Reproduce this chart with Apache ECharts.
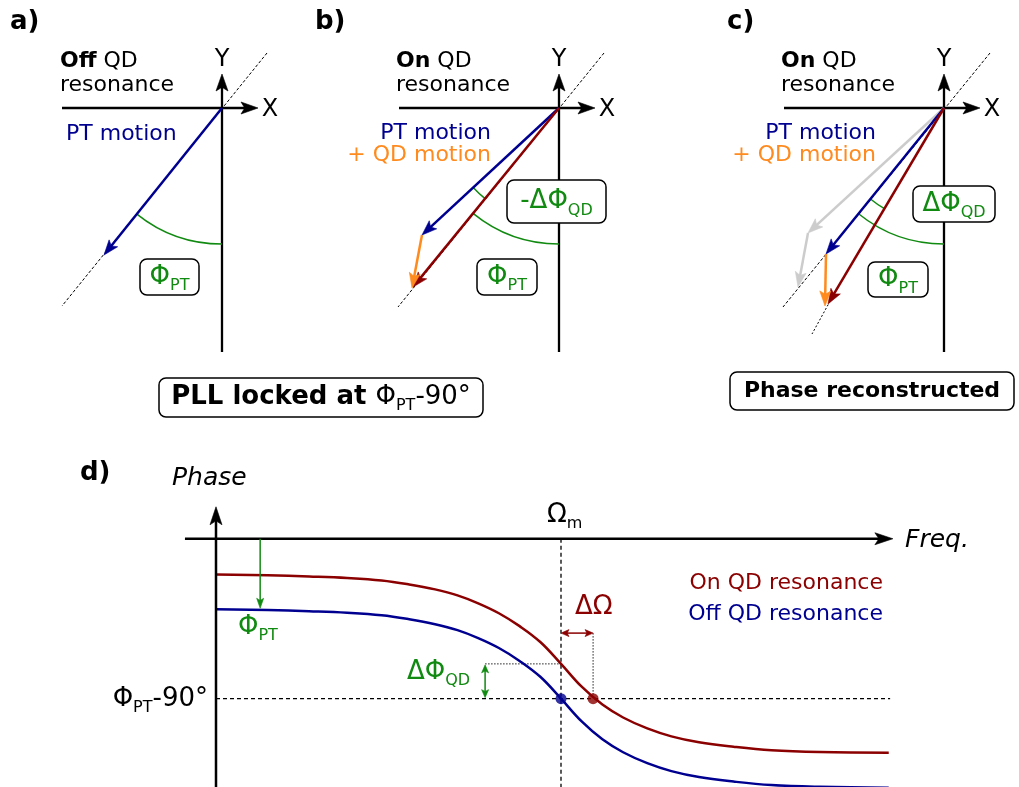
<!DOCTYPE html>
<html><head><meta charset="utf-8">
<script src="https://cdn.jsdelivr.net/npm/echarts@6/dist/echarts.min.js"></script>
<style>html,body{margin:0;padding:0;background:#fff}#c{width:1019px;height:787px}</style>
</head><body><div id="c"></div>
<script>
// ================= DATA =================
// Phasor panels a-c (arbitrary amplitude units, origin at X/Y crossing)
const axisXSeg = [-1.60, 0, 0.36, 0];
const axisYSeg = [0, -2.44, 0, 0.34];
// panel a
const guideA = [[0.45, 0.55], [-1.60, -1.98]];
const ptA = [0, 0, -1.18, -1.47];
const arcsA = [[0, -1, -1.18, -1.47, 1.36]];
// panel b
const guideB = [[0.45, 0.55], [-1.61, -1.99]];
const ptB = [0, 0, -1.37, -1.27];
const qdB = [-1.37, -1.27, -1.47, -1.80];
const sumB = [0, 0, -1.46, -1.79];
const arcsB = [[0, -1, -1.46, -1.79, 1.36], [-1.46, -1.79, -1.37, -1.27, 1.17]];
// panel c
const guideC = [[0.46, 0.55], [-1.61, -1.99]];
const guideC2 = [[-1.10, -1.86], [-1.32, -2.26]];
const ghostC = [[0, 0, -1.36, -1.25], [-1.36, -1.25, -1.46, -1.79]];
const ptC = [0, 0, -1.18, -1.46];
const qdC = [-1.18, -1.46, -1.19, -1.98];
const sumC = [0, 0, -1.16, -1.96];
const arcsC = [[0, -1, -1.18, -1.46, 1.36], [-1.18, -1.46, -1.16, -1.96, 1.17]];
// Panel d: frequency (units of Omega_m) and phase (deg)
const freqD = [0, 0.15, 0.27, 0.38, 0.48, 0.56, 0.635, 0.70, 0.76, 0.82, 0.88, 0.94, 1.00,
               1.06, 1.12, 1.18, 1.25, 1.32, 1.40, 1.50, 1.61, 1.75, 1.95];
const phaseOn = [-36, -36.8, -38, -39.5, -42, -46, -51, -57, -65, -75, -88, -104, -126,
                 -149, -167, -180, -191, -199, -205, -209.5, -213, -214.8, -215.5];
const phaseOff = [-71, -71.8, -73, -74.5, -77, -81, -86, -92, -100, -110, -123, -139, -161,
                  -184, -202, -215, -226, -234, -240, -244.5, -248, -249.8, -250.8];
const dAxisX = [-0.09, 0, 1.962, 0];
const dAxisY = [0, -252, 0, 32.2];
const omegaM = 1.0;
const phiLock = -161;           // Phi_PT - 90 deg
const phiOnAtOmegaM = -126;
const freqOnLock = 1.093;
const freqEnd = 1.954;
const phiPTArrow = [0.128, 0, 0.128, -70];
const dPhiArrow = [0.78, -160, 0.78, -127];
const dOmegaArrow = [1.0, -95, 1.093, -95];

// ================= STYLE =================
const F = 'DejaVu Sans';
const NAVY = '#000090', DRED = '#8b0000', GREEN = '#118a11', ORANGE = '#ff8a1e', GRAY = '#cccccc';

function arrowSeries(grid, segs, color, width, L, W, heads, z) {
  return {
    type: 'custom', coordinateSystem: 'cartesian2d', xAxisIndex: grid, yAxisIndex: grid,
    silent: true, z: z || 3, data: segs,
    renderItem: function (params, api) {
      const p1 = api.coord([api.value(0), api.value(1)]);
      const p2 = api.coord([api.value(2), api.value(3)]);
      const dx = p2[0] - p1[0], dy = p2[1] - p1[1];
      const len = Math.hypot(dx, dy) || 1;
      const ux = dx / len, uy = dy / len, nx = -uy, ny = ux;
      const kids = [];
      function head(tip, ddx, ddy) {
        const bx = tip[0] - ddx * L, by = tip[1] - ddy * L;
        return { type: 'polygon', shape: { points: [[tip[0], tip[1]], [bx + nx * W / 2, by + ny * W / 2],
          [tip[0] - ddx * L * 0.78, tip[1] - ddy * L * 0.78], [bx - nx * W / 2, by - ny * W / 2]] },
          style: { fill: color, stroke: color, lineWidth: 0.6 } };
      }
      let s = p1.slice(), e = p2.slice();
      if (heads === 'end' || heads === 'both') { e = [p2[0] - ux * L * 0.7, p2[1] - uy * L * 0.7]; kids.push(head(p2, ux, uy)); }
      if (heads === 'both') { s = [p1[0] + ux * L * 0.7, p1[1] + uy * L * 0.7]; kids.push(head(p1, -ux, -uy)); }
      kids.unshift({ type: 'line', shape: { x1: s[0], y1: s[1], x2: e[0], y2: e[1] }, style: { stroke: color, lineWidth: width } });
      return { type: 'group', children: kids };
    }
  };
}
function arcSeries(grid, arcs, color, width) {
  return {
    type: 'custom', coordinateSystem: 'cartesian2d', xAxisIndex: grid, yAxisIndex: grid,
    silent: true, z: 2, data: arcs,
    renderItem: function (params, api) {
      const o = api.coord([0, 0]);
      const a = api.coord([api.value(0), api.value(1)]);
      const b = api.coord([api.value(2), api.value(3)]);
      const r = api.size([api.value(4), 0])[0];
      const t1 = Math.atan2(a[1] - o[1], a[0] - o[0]), t2 = Math.atan2(b[1] - o[1], b[0] - o[0]);
      return { type: 'arc', shape: { cx: o[0], cy: o[1], r: r, startAngle: Math.min(t1, t2), endAngle: Math.max(t1, t2), clockwise: true },
        style: { stroke: color, lineWidth: width, fill: 'none' } };
    }
  };
}
function lineSeries(grid, pts, color, width, type, z) {
  return { type: 'line', xAxisIndex: grid, yAxisIndex: grid, data: pts, symbol: 'none', silent: true, z: z || 1,
    lineStyle: { color: color, width: width, type: type || 'solid' }, emphasis: { disabled: true } };
}
function zip(xs, ys) { return xs.map((x, i) => [x, ys[i]]); }

// ================= LAYOUT =================
const origins = [[222, 108], [559, 108], [944, 108]];
const grids = origins.map(o => ({ left: o[0] - 182, top: o[1] - 78, width: 250, height: 340 }));
grids.push({ left: 181.5, top: 505, width: 724.5, height: 284 });
const xAxes = [0, 1, 2].map(i => ({ type: 'value', gridIndex: i, min: -1.82, max: 0.68, show: false }));
xAxes.push({ type: 'value', gridIndex: 3, min: -0.1, max: 2.0, show: false });
const yAxes = [0, 1, 2].map(i => ({ type: 'value', gridIndex: i, min: -2.62, max: 0.78, show: false }));
yAxes.push({ type: 'value', gridIndex: 3, min: -252, max: 34, show: false });
grids.forEach(g => { g.outerBoundsMode = 'none'; g.containLabel = false; });

const series = [];
// axes for a,b,c
[0, 1, 2].forEach(i => series.push(arrowSeries(i, [axisXSeg, axisYSeg], '#000', 2.3, 17, 12, 'end', 2)));
// panel a
series.push(lineSeries(0, guideA, '#000', 1, [3, 2]));
series.push(arcSeries(0, arcsA, GREEN, 1.5));
series.push(arrowSeries(0, [ptA], NAVY, 2.5, 15, 11, 'end'));
// panel b
series.push(lineSeries(1, guideB, '#000', 1, [3, 2]));
series.push(arcSeries(1, arcsB, GREEN, 1.5));
series.push(arrowSeries(1, [ptB], NAVY, 2.5, 15, 11, 'end'));
series.push(arrowSeries(1, [sumB], DRED, 2.5, 15, 11, 'end'));
series.push(arrowSeries(1, [qdB], ORANGE, 2.5, 15, 11, 'end', 4));
// panel c
series.push(lineSeries(2, guideC, '#000', 1, [3, 2]));
series.push(lineSeries(2, guideC2, '#000', 1, [2, 2]));
series.push(arrowSeries(2, ghostC, GRAY, 2.5, 15, 11, 'end', 2));
series.push(arcSeries(2, arcsC, GREEN, 1.5));
series.push(arrowSeries(2, [ptC], NAVY, 2.5, 15, 11, 'end'));
series.push(arrowSeries(2, [sumC], DRED, 2.5, 15, 11, 'end'));
series.push(arrowSeries(2, [qdC], ORANGE, 2.5, 15, 11, 'end', 4));
// panel d
series.push(lineSeries(3, [[0, phiLock], [freqEnd, phiLock]], '#000', 1.3, [4, 3]));
series.push(lineSeries(3, [[omegaM, 0], [omegaM, -252]], '#000', 1.3, [4, 3]));
series.push(lineSeries(3, [[dPhiArrow[0], phiOnAtOmegaM], [omegaM, phiOnAtOmegaM]], '#222', 1, [1.5, 1.5]));
series.push(lineSeries(3, [[freqOnLock, dOmegaArrow[1]], [freqOnLock, phiLock]], '#222', 1, [1.5, 1.5]));
series.push(Object.assign(lineSeries(3, zip(freqD, phaseOn), DRED, 2.5, 'solid', 2), { smooth: 0.4 }));
series.push(Object.assign(lineSeries(3, zip(freqD, phaseOff), NAVY, 2.5, 'solid', 2), { smooth: 0.4 }));
series.push(arrowSeries(3, [dAxisX, dAxisY], '#000', 2.5, 18, 12, 'end', 3));
series.push(arrowSeries(3, [phiPTArrow], GREEN, 1.5, 10, 7, 'end', 3));
series.push(arrowSeries(3, [dPhiArrow], GREEN, 1.5, 8, 7, 'both', 3));
series.push(arrowSeries(3, [dOmegaArrow], DRED, 1.5, 8, 7, 'both', 3));
series.push({ type: 'scatter', xAxisIndex: 3, yAxisIndex: 3, silent: true, z: 5, symbolSize: 11,
  data: [[omegaM, phiLock]], itemStyle: { color: NAVY } });
series.push({ type: 'scatter', xAxisIndex: 3, yAxisIndex: 3, silent: true, z: 5, symbolSize: 11,
  data: [[freqOnLock, phiLock]], itemStyle: { color: DRED } });

// ================= TEXT =================
function subRich(M, S, drop, extra) {
  const delta = 0.346 * M + drop - 0.346 * S;
  const b = Math.round(S * 1.25);
  const a = b + 2 * delta;
  return Object.assign({ m: { fontSize: M, lineHeight: a, fontFamily: F },
    s: { fontSize: S, lineHeight: b, verticalAlign: 'bottom', fontFamily: F } }, extra || {});
}
function txt(x, y, text, o) {
  o = o || {};
  return { type: 'text', x: x, y: y, z: 20, silent: true,
    style: { text: text, fontFamily: F, fontSize: o.size || 22, fontWeight: o.weight || 'normal', fontStyle: o.style || 'normal',
      fill: o.color || '#000', align: o.align || 'left', verticalAlign: 'middle', rich: o.rich } };
}
function box(x, y, w, h) {
  return { type: 'rect', z: 15, silent: true, shape: { x: x, y: y, width: w, height: h, r: 7 },
    style: { fill: '#fff', stroke: '#000', lineWidth: 1.5 } };
}
const onOffRich = { b: { fontWeight: 'bold', fontSize: 22, fontFamily: F }, n: { fontSize: 22, fontFamily: F } };
const phiRich = subRich(26, 16, 3.5);
const graphics = [
  txt(10, 22, 'a)', { size: 26, weight: 'bold' }),
  txt(315, 22, 'b)', { size: 26, weight: 'bold' }),
  txt(727, 22, 'c)', { size: 26, weight: 'bold' }),
  txt(80, 473, 'd)', { size: 26, weight: 'bold' }),
  // panel a
  txt(60, 61, '{b|Off}{n| QD}', { rich: onOffRich }),
  txt(60, 85, 'resonance'),
  txt(66, 134, 'PT motion', { color: NAVY }),
  txt(222, 60, 'Y', { align: 'center', size: 24 }), txt(270, 110, 'X', { align: 'center', size: 24 }),
  box(140, 259, 59, 36), txt(169.5, 277, '{m|Φ}{s|PT}', { color: GREEN, align: 'center', rich: phiRich }),
  // panel b
  txt(396, 61, '{b|On}{n| QD}', { rich: onOffRich }),
  txt(396, 85, 'resonance'),
  txt(491, 133, 'PT motion', { color: NAVY, align: 'right' }),
  txt(491, 155, '+ QD motion', { color: ORANGE, align: 'right' }),
  txt(559, 60, 'Y', { align: 'center', size: 24 }), txt(607, 110, 'X', { align: 'center', size: 24 }),
  box(507, 180, 99, 43), txt(556.5, 201.5, '{m|-ΔΦ}{s|QD}', { color: GREEN, align: 'center', rich: phiRich }),
  box(477, 259, 60, 36), txt(507, 277, '{m|Φ}{s|PT}', { color: GREEN, align: 'center', rich: phiRich }),
  box(159, 378, 324, 39),
  txt(321, 397.5, '{b|PLL locked at }{m|Φ}{s|PT}{m|-90°}', { align: 'center',
    rich: subRich(26, 16, 3, { b: { fontSize: 26, fontWeight: 'bold', fontFamily: F } }) }),
  // panel c
  txt(781, 61, '{b|On}{n| QD}', { rich: onOffRich }),
  txt(781, 85, 'resonance'),
  txt(876, 133, 'PT motion', { color: NAVY, align: 'right' }),
  txt(876, 155, '+ QD motion', { color: ORANGE, align: 'right' }),
  txt(944, 60, 'Y', { align: 'center', size: 24 }), txt(992, 110, 'X', { align: 'center', size: 24 }),
  box(913, 186, 82, 36), txt(954, 204, '{m|ΔΦ}{s|QD}', { color: GREEN, align: 'center', rich: phiRich }),
  box(868, 262, 60, 35), txt(898, 279.5, '{m|Φ}{s|PT}', { color: GREEN, align: 'center', rich: phiRich }),
  box(730, 372, 284, 38),
  txt(872, 391, 'Phase reconstructed', { weight: 'bold', align: 'center' }),
  // panel d
  txt(172, 478, 'Phase', { size: 25, style: 'italic' }),
  txt(905, 540, 'Freq.', { size: 25, style: 'italic' }),
  txt(547, 515, '{m|Ω}{s|m}', { rich: subRich(26, 16, 3) }),
  txt(238, 627, '{m|Φ}{s|PT}', { color: GREEN, rich: phiRich }),
  txt(208, 699, '{m|Φ}{s|PT}{m|-90°}', { align: 'right', rich: phiRich }),
  txt(407, 672, '{m|ΔΦ}{s|QD}', { color: GREEN, rich: phiRich }),
  txt(575, 607, 'ΔΩ', { size: 26, color: DRED }),
  txt(883, 583, 'On QD resonance', { color: DRED, align: 'right' }),
  txt(883, 614, 'Off QD resonance', { color: NAVY, align: 'right' })
];

const chart = echarts.init(document.getElementById('c'), null, { renderer: 'canvas' });
chart.setOption({
  animation: false,
  backgroundColor: '#fff',
  grid: grids, xAxis: xAxes, yAxis: yAxes,
  series: series,
  graphic: { elements: graphics }
});
</script></body></html>
